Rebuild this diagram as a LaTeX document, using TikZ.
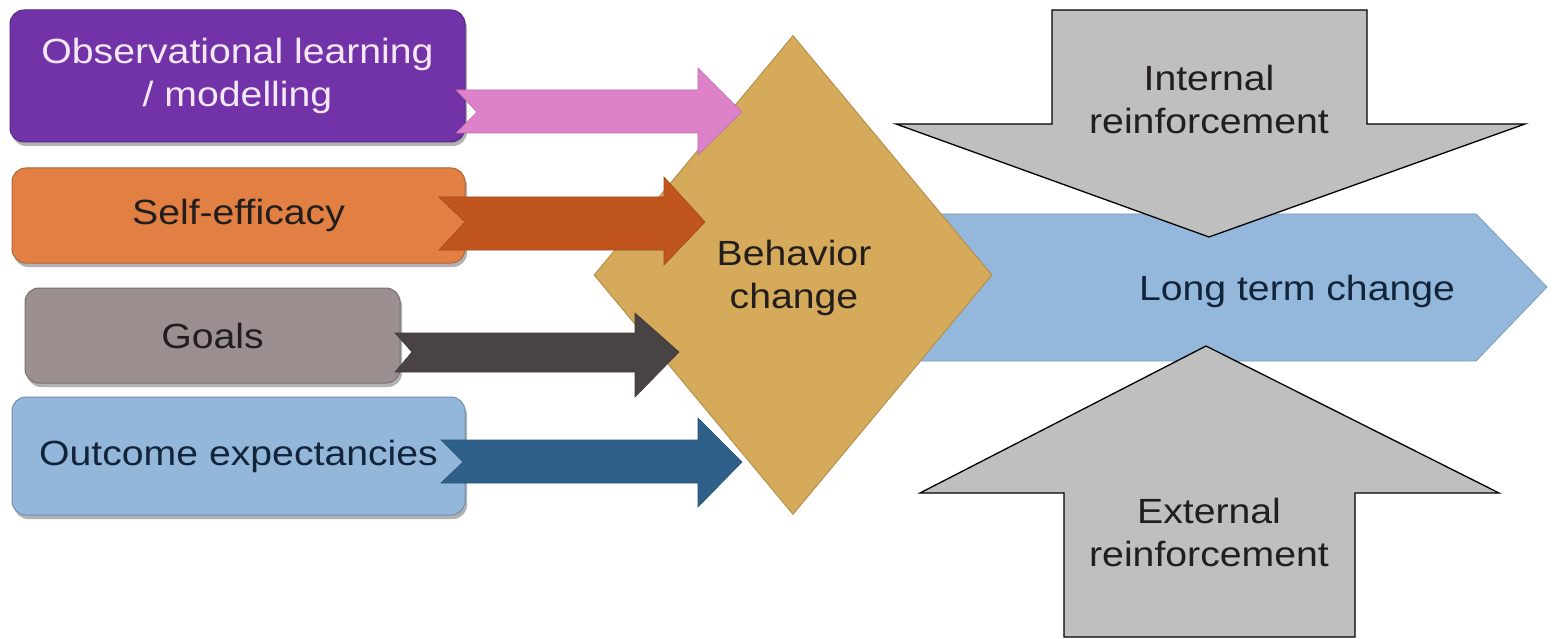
\documentclass[tikz,border=0pt]{standalone}
\usepackage{fontspec}
\setmainfont{Liberation Sans}[FakeStretch=1.12]
\usetikzlibrary{shapes.geometric,shadows}
\definecolor{cpurple}{HTML}{7232A8}
\definecolor{cpink}{HTML}{DD82C9}
\definecolor{corange}{HTML}{E28044}
\definecolor{corarrow}{HTML}{C0561E}
\definecolor{cgoals}{HTML}{9C8F8F}
\definecolor{cgoalarrow}{HTML}{4A4344}
\definecolor{coutc}{HTML}{93B7DA}
\definecolor{coutarrow}{HTML}{2F6089}
\definecolor{cgold}{HTML}{D5AA5A}
\definecolor{clong}{HTML}{93B8DC}
\definecolor{cgray}{HTML}{BFBFBF}
\definecolor{ctextlight}{HTML}{F4E8F4}
\definecolor{ctextdark}{HTML}{221E1E}
\definecolor{ctextnavy}{HTML}{13243A}
\begin{document}
\begin{tikzpicture}[x=1pt,y=-1pt,
  lbl/.style={align=center, inner sep=0pt, font=\fontsize{35}{43}\selectfont},
  box/.style={lbl, rounded corners=14pt, draw=#1!78!black, line width=1pt, fill=#1,
    drop shadow={shadow xshift=2pt, shadow yshift=-4pt, opacity=0.3, fill=black}},
  blockarrow/.style={fill=#1, draw=#1!85!black, line width=0.6pt},
  grayarrow/.style={fill=cgray, draw=black, line width=1.3pt, line join=miter}
]
\useasboundingbox (0,0) rectangle (1552,639);

% long term change arrow
\coordinate (ltA) at (880,214);
\coordinate (ltB) at (1476,214);
\coordinate (ltT) at (1547,287);
\coordinate (ltC) at (1476,361);
\coordinate (ltD) at (880,361);
\draw[fill=clong, draw=clong!85!black, line width=0.8pt] (ltA) -- (ltB) -- (ltT) -- (ltC) -- (ltD) -- cycle;
\node[lbl, text=ctextnavy] (lt) at (1297,291) {Long term change};

% internal reinforcement (down arrow)
\draw[grayarrow] (1052,10) -- (1367,10) -- (1367,124) -- (1525,124) -- (1209,237) -- (896,124) -- (1052,124) -- cycle;
\node[lbl, text=ctextdark] (intr) at (1209,99) {Internal\\reinforcement};

% external reinforcement (up arrow)
\draw[grayarrow] (1064,637) -- (1355,637) -- (1355,493) -- (1499,493) -- (1206,346) -- (920,493) -- (1064,493) -- cycle;
\node[lbl, text=ctextdark] (extr) at (1209,532) {External\\reinforcement};

% behaviour change diamond
\node[diamond, fill=cgold, draw=cgold!85!black, line width=1pt, minimum width=398pt, minimum height=479pt, inner sep=0pt] (bc) at (793,275) {};
\node[lbl, text=ctextdark] (bct) at (794,278) {Behavior\\change};

% input boxes
\node[box=cpurple, text=ctextlight, minimum width=455pt, minimum height=132pt] (obs) at (237.5,76) {Observational learning\\/ modelling};
\node[box=corange, text=ctextdark, minimum width=453pt, minimum height=95pt] (self) at (238.5,215.5) {Self-efficacy};
\node[box=cgoals, text=ctextdark, minimum width=375pt, minimum height=95pt] (goals) at (212.5,335.5) {Goals};
\node[box=coutc, text=ctextnavy, minimum width=453pt, minimum height=118pt] (outc) at (238.5,456) {Outcome expectancies};

% input arrows (notched)
\draw[blockarrow=cpink] (456,90) -- (698,90) -- (698,68) -- (742,112) -- (698,155) -- (698,133) -- (456,133) -- (477,112) -- cycle;
\draw[blockarrow=corarrow] (439,197) -- (664,197) -- (664,177) -- (705,222) -- (664,265) -- (664,250) -- (439,250) -- (465,222) -- cycle;
\draw[blockarrow=cgoalarrow] (395,333) -- (635,333) -- (635,313) -- (679,352) -- (635,397) -- (635,372) -- (395,372) -- (412,352) -- cycle;
\draw[blockarrow=coutarrow] (441,440) -- (698,440) -- (698,418) -- (742,462) -- (698,507) -- (698,483) -- (441,483) -- (463,462) -- cycle;
\end{tikzpicture}
\end{document}
